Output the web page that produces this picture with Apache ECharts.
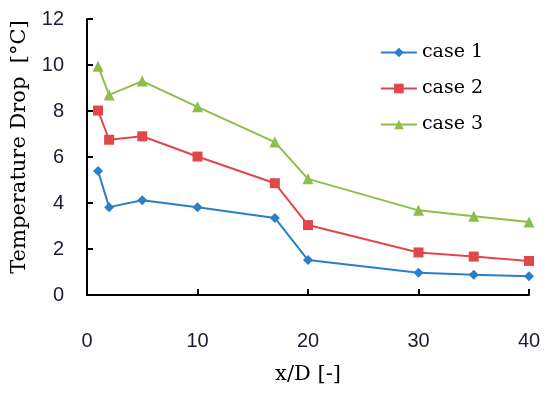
<!DOCTYPE html>
<html><head><meta charset="utf-8">
<script src="https://cdn.jsdelivr.net/npm/echarts@6/dist/echarts.min.js"></script>
<style>html,body{margin:0;padding:0;background:#fff}#c{width:550px;height:395px}</style>
</head><body><div id="c"></div>
<script>
const xValues = [1, 2, 5, 10, 17, 20, 30, 35, 40];
const case1 = [5.39, 3.82, 4.12, 3.82, 3.35, 1.52, 0.97, 0.88, 0.82];
const case2 = [8.02, 6.75, 6.9, 6.02, 4.86, 3.04, 1.85, 1.67, 1.48];
const case3 = [9.95, 8.7, 9.3, 8.18, 6.65, 5.05, 3.68, 3.42, 3.17];
const seriesNames = ['case 1', 'case 2', 'case 3'];
const colors = ['#2a7fc6', '#e0474a', '#8cbf4a'];

const pairs = arr => xValues.map((x, i) => [x, arr[i]]);
const chart = echarts.init(document.getElementById('c'));
const tickFont = {fontFamily: 'Liberation Sans', fontSize: 20, color: '#1c1c2e'};
chart.setOption({
  animation: false,
  grid: {left: 87, right: 21, top: 19, bottom: 100, outerBoundsMode: 'none', containLabel: false},
  legend: {
    right: 62, top: 38, orient: 'vertical', itemGap: 17, itemWidth: 36, itemHeight: 12,
    textStyle: {fontFamily: 'DejaVu Serif', fontSize: 19, color: '#000'},
    data: seriesNames
  },
  xAxis: {
    type: 'value', min: 0, max: 40, interval: 10,
    name: 'x/D [-]', nameLocation: 'middle', nameGap: 69,
    nameTextStyle: {fontFamily: 'DejaVu Serif', fontSize: 21, color: '#000'},
    axisLine: {lineStyle: {color: '#000', width: 2}},
    axisTick: {inside: true, length: 6, lineStyle: {color: '#000', width: 2}},
    axisLabel: Object.assign({margin: 36}, tickFont),
    splitLine: {show: false}
  },
  yAxis: {
    type: 'value', min: 0, max: 12, interval: 2,
    name: 'Temperature Drop  [°C]', nameLocation: 'middle', nameGap: 57,
    nameTextStyle: {fontFamily: 'DejaVu Serif', fontSize: 21, color: '#000', padding: [0, 0, 0, 20]},
    axisLine: {show: true, lineStyle: {color: '#000', width: 2}},
    axisTick: {show: true, inside: true, length: 6, lineStyle: {color: '#000', width: 2}},
    axisLabel: Object.assign({margin: 23}, tickFont),
    splitLine: {show: false}
  },
  series: [
    {name: seriesNames[0], type: 'line', data: pairs(case1), symbol: 'diamond', symbolSize: 10,
     color: colors[0], lineStyle: {width: 2}},
    {name: seriesNames[1], type: 'line', data: pairs(case2), symbol: 'rect', symbolSize: 10,
     color: colors[1], lineStyle: {width: 2}},
    {name: seriesNames[2], type: 'line', data: pairs(case3), symbol: 'triangle', symbolSize: 11,
     color: colors[2], lineStyle: {width: 2}}
  ]
});
</script></body></html>
